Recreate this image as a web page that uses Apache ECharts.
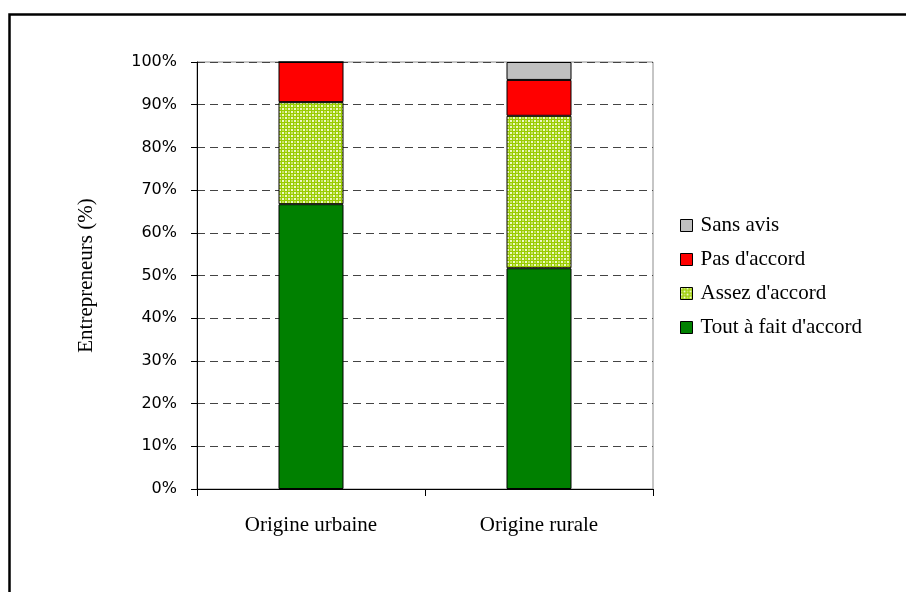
<!DOCTYPE html>
<html>
<head>
<meta charset="utf-8">
<script src="https://cdn.jsdelivr.net/npm/echarts@6/dist/echarts.min.js"></script>
<style>
  html, body { margin: 0; padding: 0; background: #fff; }
  #chart { width: 906px; height: 592px; }
</style>
</head>
<body>
<div id="chart"></div>
<script>
var categories = ['Origine urbaine', 'Origine rurale'];
var toutAFait = [66.7, 51.7];
var assez = [23.9, 35.7];
var pasAccord = [9.4, 8.4];
var sansAvis = [0, 4.2];
var yTicks = [0, 10, 20, 30, 40, 50, 60, 70, 80, 90, 100];

var serif = '"Liberation Serif", "DejaVu Serif", serif';
var sans = '"DejaVu Sans", sans-serif';

// hatched fill for "Assez d'accord"
function makePattern() {
    var c = document.createElement('canvas');
    c.width = 6;
    c.height = 6;
    var ctx = c.getContext('2d');
    ctx.fillStyle = '#99cc00';
    ctx.fillRect(0, 0, 6, 6);
    ctx.fillStyle = '#eef8c8';
    ctx.fillRect(0, 0, 2, 2);
    ctx.fillRect(3, 3, 2, 2);
    ctx.fillStyle = '#c8e660';
    ctx.fillRect(3, 0, 2, 2);
    ctx.fillRect(0, 3, 2, 2);
    return c;
}
var hatch = { image: makePattern(), repeat: 'repeat' };

var chart = echarts.init(document.getElementById('chart'));

function bar(name, data, color) {
    return {
        name: name,
        type: 'bar',
        stack: 'total',
        barWidth: 65,
        data: data,
        itemStyle: { color: color, borderColor: '#000', borderWidth: 1 },
        emphasis: { disabled: true }
    };
}

chart.setOption({
    animation: false,
    graphic: [{
        type: 'rect',
        left: 7,
        top: 12,
        shape: { width: 1000, height: 1000 },
        style: { fill: 'none', stroke: '#000', lineWidth: 2.5 },
        silent: true
    }],
    grid: {
        left: 197,
        right: 253,
        top: 62,
        bottom: 103,
        show: true,
        borderColor: '#8c8c8c',
        borderWidth: 1
    },
    legend: {
        orient: 'vertical',
        left: 675,
        top: 210,
        itemWidth: 12,
        itemHeight: 12,
        itemGap: 13,
        icon: 'rect',
        data: ['Sans avis', "Pas d'accord", "Assez d'accord", "Tout à fait d'accord"],
        textStyle: { fontFamily: serif, fontSize: 21, color: '#000', padding: [0, 0, 0, 3] },
        itemStyle: { borderColor: '#000', borderWidth: 1 }
    },
    xAxis: {
        type: 'category',
        data: categories,
        axisLine: { lineStyle: { color: '#000' } },
        axisTick: { show: true, length: 7, lineStyle: { color: '#000' } },
        axisLabel: { fontFamily: serif, fontSize: 21, color: '#000', margin: 26 }
    },
    yAxis: {
        type: 'value',
        min: 0,
        max: 100,
        interval: 10,
        name: 'Entrepreneurs (%)',
        nameLocation: 'middle',
        nameGap: 100,
        nameRotate: 90,
        nameTextStyle: { fontFamily: serif, fontSize: 21, color: '#000' },
        axisLine: { show: true, lineStyle: { color: '#000' } },
        axisTick: { show: true, length: 6, lineStyle: { color: '#000' } },
        axisLabel: {
            fontFamily: sans,
            fontSize: 16,
            color: '#000',
            margin: 20,
            formatter: function (v) { return yTicks.indexOf(v) >= 0 ? v + '%' : ''; }
        },
        splitLine: { lineStyle: { color: '#444', type: [8, 5] } }
    },
    series: [
        bar("Tout à fait d'accord", toutAFait, '#008000'),
        bar("Assez d'accord", assez, hatch),
        bar("Pas d'accord", pasAccord, '#ff0000'),
        bar('Sans avis', sansAvis, '#c0c0c0')
    ]
});
</script>
</body>
</html>
